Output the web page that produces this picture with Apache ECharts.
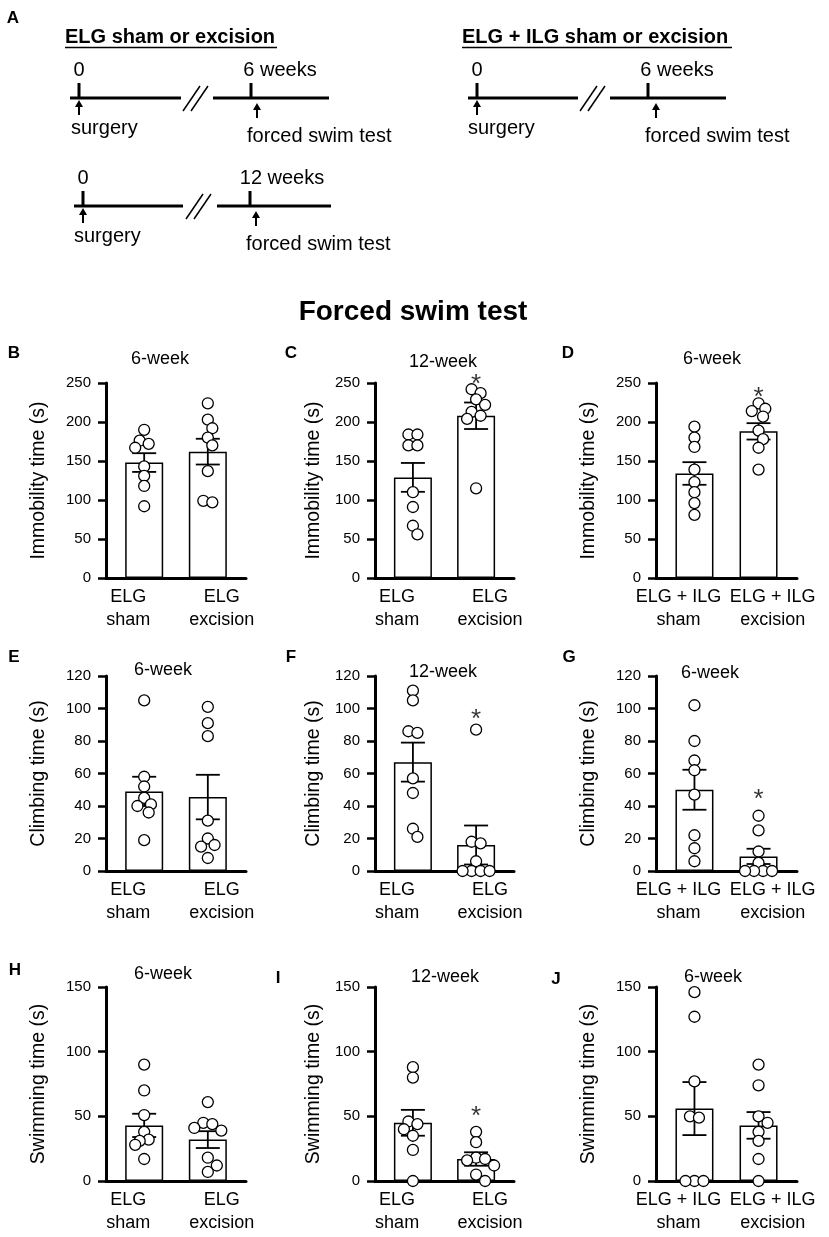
<!DOCTYPE html>
<html>
<head>
<meta charset="utf-8">
<script src="https://cdn.jsdelivr.net/npm/echarts@6/dist/echarts.min.js"></script>
<style>
  html, body { margin: 0; padding: 0; background: #fff; }
  #main { width: 829px; height: 1237px; }
</style>
</head>
<body>
<div id="main"></div>
<script>
// group labels
const elgGroups = ['ELG\nsham', 'ELG\nexcision']
const ilgGroups = ['ELG + ILG\nsham', 'ELG + ILG\nexcision']

// immobility time (s)
const immob6Sham = [190, 176, 172, 167, 143, 131, 118, 92]
const immob6Exc = [224, 203, 192, 180, 170, 137, 99, 97]
const immob6Mean = [148, 162]
const immob6Sem = [12, 16.5]

const immob12Sham = [184, 184, 170, 170, 110, 91, 67, 56]
const immob12Exc = [242, 237, 229, 222, 213, 208, 204, 115]
const immob12Mean = [129, 208]
const immob12Sem = [18.5, 17]

const immobIlgSham = [194, 180, 168, 139, 123, 110, 96, 81]
const immobIlgExc = [224, 217, 214, 207, 189, 178, 167, 139]
const immobIlgMean = [134, 188]
const immobIlgSem = [14.5, 10.5]

// climbing time (s)
const climb6Sham = [105, 58, 52, 45, 41, 40, 36, 19]
const climb6Exc = [101, 91, 83, 31, 20, 16, 15, 8]
const climb6Mean = [49, 45.5]
const climb6Sem = [9, 13.7]

const climb12Sham = [111, 105, 86, 85, 57, 48, 26, 21]
const climb12Exc = [87, 18, 17, 6, 0, 0, 0, 0]
const climb12Mean = [67, 16]
const climb12Sem = [12, 12]

const climbIlgSham = [102, 80, 68, 62, 47, 22, 14, 6]
const climbIlgExc = [34, 25, 12, 5, 0, 0, 0, 0]
const climbIlgMean = [50, 9]
const climbIlgSem = [12.3, 4.7]

// swimming time (s)
const swim6Sham = [90, 70, 51, 38, 32, 31, 28, 17]
const swim6Exc = [61, 45, 44, 41, 39, 18, 12, 7]
const swim6Mean = [43, 32]
const swim6Sem = [9, 6.5]

const swim12Sham = [88, 80, 46, 44, 40, 35, 24, 0]
const swim12Exc = [38, 30, 18, 17, 16, 12, 5, 0]
const swim12Mean = [45, 17]
const swim12Sem = [10, 5.2]

const swimIlgSham = [146, 127, 77, 50, 49, 0, 0, 0]
const swimIlgExc = [90, 74, 50, 45, 38, 31, 17, 0]
const swimIlgMean = [56, 43]
const swimIlgSem = [20.5, 10.3]

const FONT = 'Liberation Sans, Arial, sans-serif'

// layout of the 3x3 panel grid
const colLeft = [106, 375, 656]
const colWidth = [140, 139, 141]
const rowTop = [383, 676, 987]
const rowHeight = [195, 195, 194]
const nameGaps = [57, 51, 57]

const panels = [
  { letter: 'B', lx: 14, ly: 353, title: '6-week', tx: 160, ty: 359, row: 0, col: 0, name: 'Immobility time (s)', max: 250, step: 50, groups: elgGroups, pts: [immob6Sham, immob6Exc], mean: immob6Mean, sem: immob6Sem },
  { letter: 'C', lx: 291, ly: 353, title: '12-week', tx: 443, ty: 362, row: 0, col: 1, name: 'Immobility time (s)', max: 250, step: 50, groups: elgGroups, pts: [immob12Sham, immob12Exc], mean: immob12Mean, sem: immob12Sem, star: 258 },
  { letter: 'D', lx: 568, ly: 353, title: '6-week', tx: 712, ty: 359, row: 0, col: 2, name: 'Immobility time (s)', max: 250, step: 50, groups: ilgGroups, pts: [immobIlgSham, immobIlgExc], mean: immobIlgMean, sem: immobIlgSem, star: 241 },
  { letter: 'E', lx: 14, ly: 657, title: '6-week', tx: 163, ty: 670, row: 1, col: 0, name: 'Climbing time (s)', max: 120, step: 20, groups: elgGroups, pts: [climb6Sham, climb6Exc], mean: climb6Mean, sem: climb6Sem },
  { letter: 'F', lx: 291, ly: 657, title: '12-week', tx: 443, ty: 672, row: 1, col: 1, name: 'Climbing time (s)', max: 120, step: 20, groups: elgGroups, pts: [climb12Sham, climb12Exc], mean: climb12Mean, sem: climb12Sem, star: 98 },
  { letter: 'G', lx: 569, ly: 657, title: '6-week', tx: 710, ty: 673, row: 1, col: 2, name: 'Climbing time (s)', max: 120, step: 20, groups: ilgGroups, pts: [climbIlgSham, climbIlgExc], mean: climbIlgMean, sem: climbIlgSem, star: 48.5 },
  { letter: 'H', lx: 15, ly: 970, title: '6-week', tx: 163, ty: 974, row: 2, col: 0, name: 'Swimming time (s)', max: 150, step: 50, groups: elgGroups, pts: [swim6Sham, swim6Exc], mean: swim6Mean, sem: swim6Sem },
  { letter: 'I', lx: 278, ly: 978, title: '12-week', tx: 445, ty: 977, row: 2, col: 1, name: 'Swimming time (s)', max: 150, step: 50, groups: elgGroups, pts: [swim12Sham, swim12Exc], mean: swim12Mean, sem: swim12Sem, star: 56 },
  { letter: 'J', lx: 556, ly: 979, title: '6-week', tx: 713, ty: 977, row: 2, col: 2, name: 'Swimming time (s)', max: 150, step: 50, groups: ilgGroups, pts: [swimIlgSham, swimIlgExc], mean: swimIlgMean, sem: swimIlgSem }
]

const X_MIN = -0.6, X_MAX = 1.6

// simple beeswarm: spread dots that would collide, then centre each row
function swarm (values, pxPerVal, D) {
  const placed = []
  values.forEach(v => {
    const y = v * pxPerVal
    let off = 0
    for (let k = 0; k < 30; k++) {
      const cands = k === 0 ? [0] : [k * D / 2, -k * D / 2]
      const ok = cands.find(c => placed.every(p => Math.hypot(p.x - c, p.y - y) >= D - 0.01))
      if (ok !== undefined) { off = ok; break }
    }
    placed.push({ x: off, y: y })
  })
  // rows of (almost) equal values get centred round the bar middle
  const used = new Array(placed.length).fill(false)
  placed.forEach((p, i) => {
    if (used[i]) return
    const row = placed.map((q, j) => j).filter(j => !used[j] && Math.abs(placed[j].y - p.y) < 4)
    row.forEach(j => { used[j] = true })
    if (row.length > 1) {
      const m = row.reduce((s, j) => s + placed[j].x, 0) / row.length
      row.forEach(j => { placed[j].x -= m })
    }
  })
  return placed.map(p => p.x)
}

const grid = [], xAxis = [], yAxis = [], series = [], graphic = []

panels.forEach((p, i) => {
  const left = colLeft[p.col], width = colWidth[p.col]
  const top = rowTop[p.row], height = rowHeight[p.row]
  grid.push({ left: left, top: top, width: width, height: height })

  xAxis.push({
    type: 'value', gridIndex: i, min: X_MIN, max: X_MAX,
    axisLine: { show: true, onZero: false, lineStyle: { color: '#000', width: 3 } },
    axisTick: { show: false },
    splitLine: { show: false },
    axisLabel: {
      customValues: [-0.25, 1.22],
      formatter: v => (v < 0.5 ? p.groups[0] : p.groups[1]),
      color: '#000', fontSize: 18, lineHeight: 23, fontFamily: FONT, margin: 8
    }
  })

  yAxis.push({
    type: 'value', gridIndex: i, min: 0, max: p.max, interval: p.step,
    name: p.name, nameLocation: 'middle', nameGap: nameGaps[p.col],
    nameTextStyle: { color: '#000', fontSize: 19.5, fontFamily: FONT },
    axisLine: { show: true, onZero: false, lineStyle: { color: '#000', width: 3 } },
    axisTick: { show: true, length: 8, lineStyle: { color: '#000', width: 2.5 } },
    splitLine: { show: false },
    axisLabel: { color: '#000', fontSize: 15, fontFamily: FONT, margin: 15 }
  })

  series.push({
    type: 'bar', xAxisIndex: i, yAxisIndex: i, barWidth: 38, z: 2,
    data: p.mean.map((m, g) => [g, m]),
    itemStyle: { color: '#fff', borderColor: '#000', borderWidth: 1.5 },
    silent: true
  })

  series.push({
    type: 'custom', xAxisIndex: i, yAxisIndex: i, z: 3,
    data: p.mean.map((m, g) => [g, m, p.sem[g]]),
    encode: { x: 0, y: 1 },
    renderItem: (params, api) => {
      const x = api.value(0), m = api.value(1), s = api.value(2)
      const hi = api.coord([x, m + s]), lo = api.coord([x, Math.max(0, m - s)])
      const hw = 12
      const st = { stroke: '#000', lineWidth: 1.8 }
      return {
        type: 'group',
        children: [
          { type: 'line', shape: { x1: hi[0], y1: hi[1], x2: lo[0], y2: lo[1] }, style: st },
          { type: 'line', shape: { x1: hi[0] - hw, y1: hi[1], x2: hi[0] + hw, y2: hi[1] }, style: st },
          { type: 'line', shape: { x1: lo[0] - hw, y1: lo[1], x2: lo[0] + hw, y2: lo[1] }, style: st }
        ]
      }
    }
  })

  const pxPerVal = height / p.max
  const pxPerUnit = width / (X_MAX - X_MIN)
  const dots = []
  p.pts.forEach((vals, g) => {
    const offs = swarm(vals, pxPerVal, 9)
    vals.forEach((v, k) => dots.push([g + offs[k] / pxPerUnit, v]))
  })
  series.push({
    type: 'scatter', xAxisIndex: i, yAxisIndex: i, z: 4, clip: false,
    symbol: 'circle', symbolSize: 11,
    itemStyle: { color: '#fff', borderColor: '#000', borderWidth: 1.3, opacity: 1 },
    data: dots, silent: true
  })

  if (p.star) {
    series.push({
      type: 'scatter', xAxisIndex: i, yAxisIndex: i, z: 5, clip: false,
      symbolSize: 2, itemStyle: { color: 'rgba(0,0,0,0)' },
      data: [[1, p.star]], silent: true,
      label: { show: true, position: 'inside', formatter: '*', color: '#000', fontSize: 26, fontFamily: FONT, offset: [0, 8] }
    })
  }

  graphic.push({ type: 'text', x: p.lx, y: p.ly, style: { text: p.letter, font: 'bold 17px ' + FONT, fill: '#000', align: 'center', verticalAlign: 'middle', textAlign: 'center', textVerticalAlign: 'middle' } })
  graphic.push({ type: 'text', x: p.tx, y: p.ty, style: { text: p.title, font: '18px ' + FONT, fill: '#000', align: 'center', verticalAlign: 'middle', textAlign: 'center', textVerticalAlign: 'middle' } })
})

// panel A: timelines
function txt (x, y, text, font, align) {
  return { type: 'text', x: x, y: y, style: { text: text, font: font, fill: '#000', align: align, verticalAlign: 'middle', textAlign: align, textVerticalAlign: 'middle' } }
}
function seg (x1, y1, x2, y2, w) {
  return { type: 'line', shape: { x1: x1, y1: y1, x2: x2, y2: y2 }, style: { stroke: '#000', lineWidth: w } }
}
function arrow (x, tip) {
  return [
    seg(x, tip + 5, x, tip + 15, 2),
    { type: 'polygon', shape: { points: [[x, tip], [x - 4, tip + 7], [x + 4, tip + 7]] }, style: { fill: '#000' } }
  ]
}
function timeline (t) {
  const y = t.y
  return [
    seg(t.a[0], y, t.a[1], y, 3),
    seg(t.t0, y - 15, t.t0, y, 3),
    seg(t.s, y + 13, t.s + 17, y - 12, 1.5),
    seg(t.s + 8, y + 13, t.s + 25, y - 12, 1.5),
    seg(t.b[0], y, t.b[1], y, 3),
    seg(t.t1, y - 15, t.t1, y, 3),
    txt(t.t0, y - 28, '0', '20px ' + FONT, 'center'),
    txt(t.wx, y - 28, t.weeks, '20px ' + FONT, 'center'),
    ...arrow(t.t0, y + 2),
    ...arrow(t.ax, y + 5),
    txt(t.sx, y + 30, 'surgery', '20px ' + FONT, 'left'),
    txt(t.fx, y + 38, 'forced swim test', '20px ' + FONT, 'left')
  ]
}

graphic.push(txt(13, 18, 'A', 'bold 17px ' + FONT, 'center'))
graphic.push(txt(65, 37, 'ELG sham or excision', 'bold 20px ' + FONT, 'left'))
graphic.push(seg(65, 47.5, 277, 47.5, 1.5))
graphic.push(txt(462, 37, 'ELG + ILG sham or excision', 'bold 20px ' + FONT, 'left'))
graphic.push(seg(462, 47.5, 732, 47.5, 1.5))
graphic.push(...timeline({ y: 98, a: [70, 181], t0: 79, s: 183, b: [213, 329], t1: 251, wx: 280, weeks: '6 weeks', ax: 257, sx: 71, fx: 247 }))
graphic.push(...timeline({ y: 206, a: [74, 183], t0: 83, s: 186, b: [217, 331], t1: 250, wx: 282, weeks: '12 weeks', ax: 256, sx: 74, fx: 246 }))
graphic.push(...timeline({ y: 98, a: [468, 578], t0: 477, s: 580, b: [610, 726], t1: 648, wx: 677, weeks: '6 weeks', ax: 656, sx: 468, fx: 645 }))

graphic.push(txt(413, 312, 'Forced swim test', 'bold 28px ' + FONT, 'center'))

const chart = echarts.init(document.getElementById('main'), null, { renderer: 'canvas' })
chart.setOption({
  animation: false,
  backgroundColor: '#fff',
  textStyle: { fontFamily: FONT },
  grid: grid,
  xAxis: xAxis,
  yAxis: yAxis,
  series: series,
  graphic: graphic
})
</script>
</body>
</html>
